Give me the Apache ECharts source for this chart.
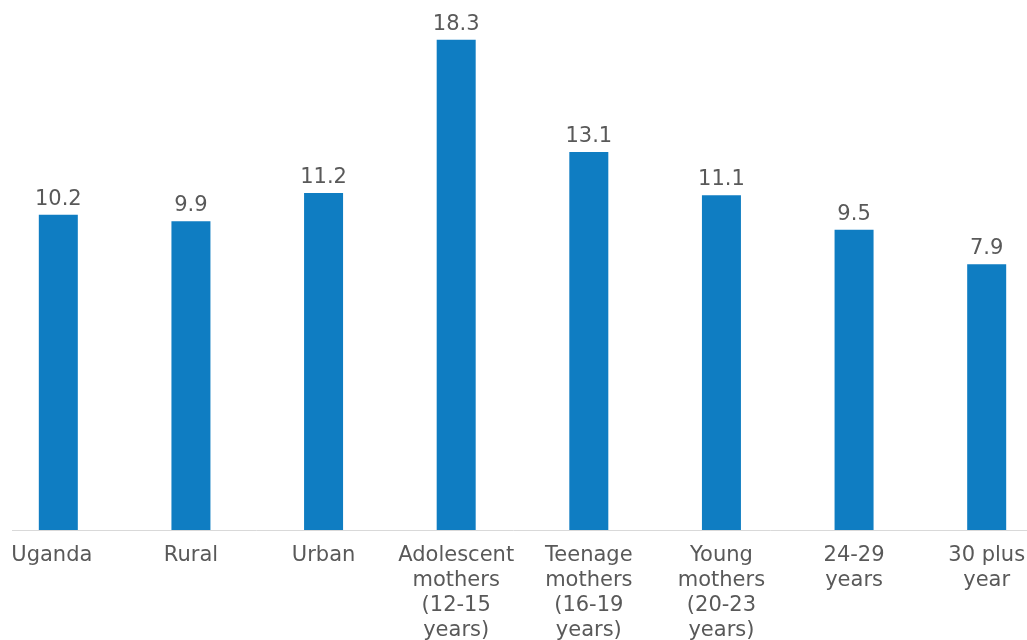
<!DOCTYPE html>
<html>
<head>
<meta charset="utf-8">
<script src="https://cdn.jsdelivr.net/npm/echarts@6/dist/echarts.min.js"></script>
<style>
html,body{margin:0;padding:0;background:#fff;}
#chart{width:1027px;height:640px;}
</style>
</head>
<body>
<div id="chart"></div>
<script>
const categories = ['Uganda', 'Rural', 'Urban', 'Adolescent\nmothers\n(12-15\nyears)', 'Teenage\nmothers\n(16-19\nyears)', 'Young\nmothers\n(20-23\nyears)', '24-29\nyears', '30 plus\nyear'];
const values = [10.2, 9.9, 11.2, 18.3, 13.1, 11.1, 9.5, 7.9];
const axisMin = -4.4;
const axisMax = 20;

const barColor = '#0F7DC2';
const textColor = '#595959';
const font = "'DejaVu Sans', Verdana, sans-serif";
const barW = 39;

const axisData = categories.map((c, i) => i === 0 ? {value: c, textStyle: {padding: [0, 13, 0, 0]}} : c);

const chart = echarts.init(document.getElementById('chart'), null, {renderer: 'canvas'});
chart.setOption({
  animation: false,
  backgroundColor: '#fff',
  grid: {left: -8, width: 1061, top: 3, bottom: 110, outerBoundsMode: 'none', containLabel: false},
  xAxis: {
    type: 'category',
    data: axisData,
    axisLine: {show: true, onZero: false, lineStyle: {color: '#D9D9D9', width: 1}},
    axisTick: {show: false},
    axisLabel: {color: textColor, fontFamily: font, fontSize: 21, lineHeight: 25, margin: 13, interval: 0}
  },
  yAxis: {
    type: 'value', min: axisMin, max: axisMax,
    show: false, splitLine: {show: false}
  },
  series: [
    {
      type: 'custom',
      data: values.map((v, i) => [i, v]),
      encode: {x: 0, y: 1},
      renderItem: (params, api) => {
        const top = api.coord([api.value(0), api.value(1)]);
        const bottom = api.coord([api.value(0), axisMin]);
        return {
          type: 'rect',
          shape: {x: top[0] - barW / 2, y: top[1], width: barW, height: bottom[1] - top[1]},
          style: {fill: barColor}
        };
      },
      z: 1
    },
    {
      type: 'bar', data: values, barWidth: barW,
      itemStyle: {color: 'rgba(0,0,0,0)'},
      label: {show: true, position: 'top', distance: 5, color: textColor, fontFamily: font, fontSize: 21,
        formatter: p => p.value.toFixed(1)},
      z: 2
    }
  ],
  graphic: [{type: 'rect', shape: {x: 0, y: 527, width: 12, height: 6}, style: {fill: '#fff'}, z: 100}]
});
</script>
</body>
</html>
